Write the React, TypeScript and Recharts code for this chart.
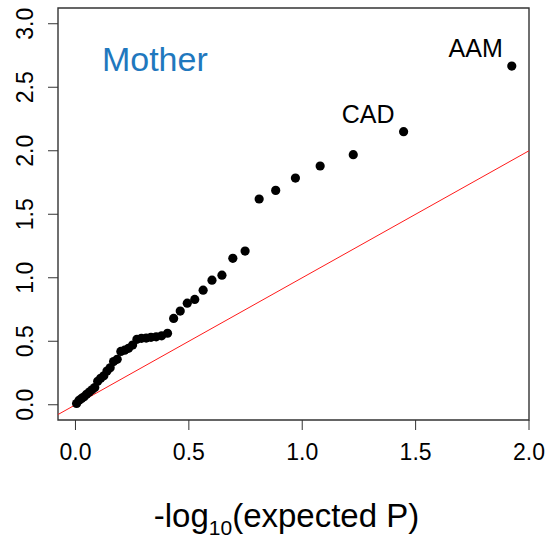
import React from 'react';
import {
  ScatterChart,
  Scatter,
  XAxis,
  YAxis,
  ReferenceLine,
  ReferenceArea,
  ReferenceDot,
  Label,
} from 'recharts';

// expected and observed -log10(P), sorted from the strongest hit down
const expected = [
  1.924, 1.447, 1.225, 1.079, 0.97, 0.883, 0.81, 0.748, 0.694, 0.646, 0.602,
  0.563, 0.526, 0.493, 0.462, 0.433, 0.406, 0.38, 0.356, 0.333, 0.312, 0.291,
  0.271, 0.252, 0.234, 0.217, 0.2, 0.184, 0.168, 0.153, 0.139, 0.125, 0.111,
  0.098, 0.085, 0.073, 0.061, 0.049, 0.038, 0.027, 0.016, 0.005,
];
const observed = [
  2.667, 2.15, 1.969, 1.88, 1.785, 1.688, 1.62, 1.21, 1.153, 1.02, 0.981,
  0.902, 0.829, 0.8, 0.738, 0.68, 0.563, 0.543, 0.535, 0.531, 0.525, 0.523,
  0.515, 0.47, 0.444, 0.43, 0.42, 0.358, 0.34, 0.291, 0.265, 0.228, 0.208,
  0.185, 0.135, 0.118, 0.1, 0.082, 0.063, 0.05, 0.035, 0.01,
];
// names of the top-ranked traits
const topLabels = ['AAM', 'CAD'];

const xTicks = [0, 0.5, 1, 1.5, 2];
const yTicks = [0, 0.5, 1, 1.5, 2, 2.5, 3];
const xDomain: [number, number] = [-0.077, 2.0];
const yDomain: [number, number] = [-0.12, 3.124];

const data = expected.map((x, i) => ({ x, y: observed[i], name: topLabels[i] ?? '' }));

const FONT = '"Liberation Sans", Arial, sans-serif';
const AXIS = '#333';

const Dot = (props: any) => {
  const { cx, cy, payload } = props;
  return (
    <g>
      <circle cx={cx} cy={cy} r={4.6} fill="#000" />
      {payload.name ? (
        <text
          x={cx - 9}
          y={cy - 9}
          textAnchor="end"
          fontFamily={FONT}
          fontSize={25}
          fill="#000"
        >
          {payload.name}
        </text>
      ) : null}
    </g>
  );
};

const XTick = ({ x, y, payload }: any) => (
  <text x={x} y={y + 28} textAnchor="middle" fontFamily={FONT} fontSize={23} fill="#000">
    {payload.value.toFixed(1)}
  </text>
);

const YTick = ({ x, y, payload }: any) => (
  <text
    x={x - 12.5}
    y={y}
    transform={`rotate(-90 ${x - 12.5} ${y})`}
    textAnchor="middle"
    fontFamily={FONT}
    fontSize={23}
    fill="#000"
  >
    {payload.value.toFixed(1)}
  </text>
);

const XTitle = ({ viewBox }: any) => {
  const cx = viewBox.x + viewBox.width / 2 - 7;
  return (
    <text x={cx} y={viewBox.y + 107} textAnchor="middle" fontFamily={FONT} fontSize={33} fill="#000">
      -log
      <tspan fontSize={21} dy={8}>10</tspan>
      <tspan dy={-8}>(expected P)</tspan>
    </text>
  );
};

export default function App() {
  return (
    <div style={{ position: 'absolute', left: 0, top: 0, background: '#fff' }}>
      <ScatterChart width={558} height={540} margin={{ top: 8, right: 29, left: 0, bottom: 0 }}>
        <XAxis
          type="number"
          dataKey="x"
          domain={xDomain}
          ticks={xTicks}
          allowDataOverflow
          height={120}
          axisLine={false}
          tickLine={{ stroke: AXIS }}
          tickSize={10}
          tick={<XTick />}
        >
          <Label content={<XTitle />} />
        </XAxis>
        <YAxis
          type="number"
          dataKey="y"
          domain={yDomain}
          ticks={yTicks}
          allowDataOverflow
          width={58}
          axisLine={false}
          tickLine={{ stroke: AXIS }}
          tickSize={10}
          tick={<YTick />}
        />
        <ReferenceLine
          segment={[
            { x: -0.2, y: -0.2 },
            { x: 2.2, y: 2.2 },
          ]}
          stroke="#ff1a1a"
          strokeWidth={1}
          ifOverflow="hidden"
        />
        <ReferenceArea
          x1={xDomain[0]}
          x2={xDomain[1]}
          y1={yDomain[0]}
          y2={yDomain[1]}
          fill="none"
          stroke={AXIS}
          strokeWidth={1.4}
          ifOverflow="visible"
        />
        <ReferenceDot
          x={0.35}
          y={2.72}
          r={0}
          ifOverflow="visible"
          label={{ value: 'Mother', position: 'center', fontSize: 34, fontFamily: FONT, fill: '#1f78be' }}
        />
        <Scatter data={data} shape={<Dot />} isAnimationActive={false} />
      </ScatterChart>
    </div>
  );
}
